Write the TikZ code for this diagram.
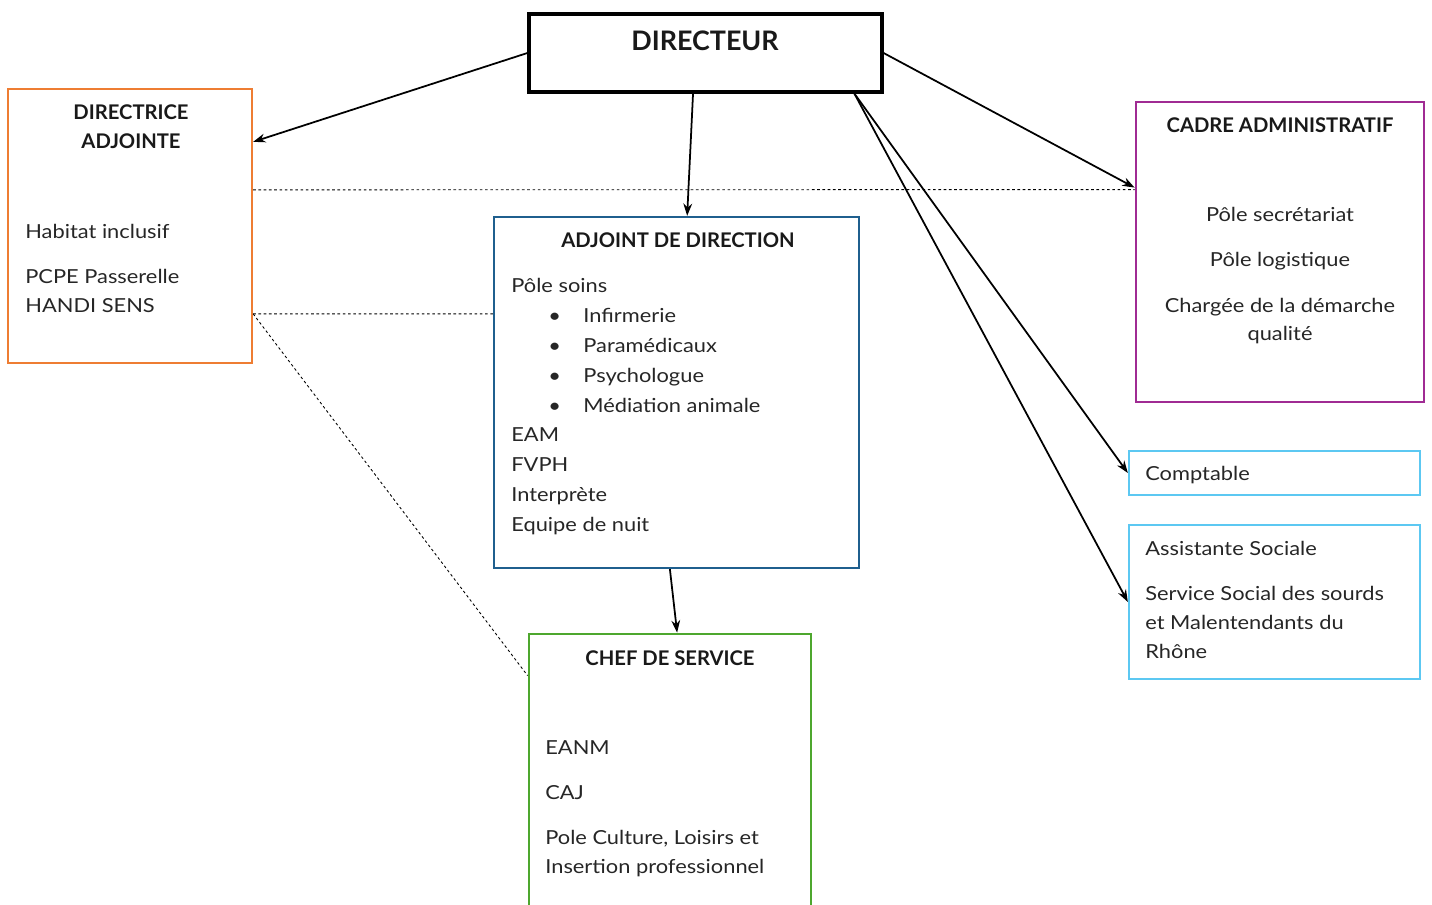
\documentclass[tikz,border=0pt]{standalone}
\usepackage{fontspec}
\setmainfont{Lato}
\newfontfamily\bodyfont{Lato}[FakeStretch=1.13]
\usetikzlibrary{arrows.meta,calc,fit}
\definecolor{daorange}{HTML}{EE7D33}
\definecolor{adjblue}{HTML}{1F5F8E}
\definecolor{admpurple}{HTML}{A02B93}
\definecolor{skyblue}{HTML}{5CC8F2}
\definecolor{chefgreen}{HTML}{4EA72E}
\tikzset{
  box/.style={draw, inner sep=0pt, line width=1.3pt},
  title/.style={font=\fontsize{11.5}{16.5}\selectfont\bfseries, align=center, text=black!90},
  body/.style={font=\bodyfont\fontsize{11}{16.3}\selectfont, align=left, inner sep=0pt, text=black!85},
  link/.style={-{Stealth[length=7pt,width=5pt]}, line width=1pt},
  dots/.style={line width=0.5pt, dash pattern=on 1.5pt off 1.5pt}
}
\begin{document}
\begin{tikzpicture}[x=0.02cm, y=-0.02cm]
\useasboundingbox (0,0) rectangle (1432,905);
\clip (0,0) rectangle (1432,905);

% Boxes
\node[box, line width=1.8pt, fit={(529,14) (882,92)}] (dir) {};
\node[box, draw=daorange, fit={(8,89) (252,363)}] (da) {};
\node[box, draw=adjblue, fit={(494,217) (859,568)}] (adj) {};
\node[box, draw=admpurple, line width=1.6pt, fit={(1136,102) (1424,402)}] (cadre) {};
\node[box, draw=skyblue, fit={(1129,451) (1420,495)}] (compta) {};
\node[box, draw=skyblue, fit={(1129,525) (1420,679)}] (social) {};
\node[box, draw=chefgreen, line width=1.6pt, fit={(529,634) (811,930)}] (chef) {};

% Titles
\node[title, font=\fontsize{15.3}{17}\selectfont\bfseries] (dirtitle) at (705,41) {DIRECTEUR};
\node[title] (datitle) at (131,127) {DIRECTRICE\\ADJOINTE};
\node[title] (adjtitle) at (678,240) {ADJOINT DE DIRECTION};
\node[title] (cadretitle) at (1280,125) {CADRE ADMINISTRATIF};
\node[title] (cheftitle) at (670,658) {CHEF DE SERVICE};

% Contents
\node[body, anchor=north west] (datext) at (25,224) {Habitat inclusif\\[9.5pt]PCPE Passerelle\\HANDI SENS};
\node[body, font=\bodyfont\fontsize{11}{17}\selectfont, anchor=north west] (adjtext) at (511,278) {P\^ole soins\\
  \makebox[41pt][l]{\hspace*{21pt}\textbullet}Infirmerie\\
  \makebox[41pt][l]{\hspace*{21pt}\textbullet}Paramédicaux\\
  \makebox[41pt][l]{\hspace*{21pt}\textbullet}Psychologue\\
  \makebox[41pt][l]{\hspace*{21pt}\textbullet}Médiation animale\\
  EAM\\FVPH\\Interprète\\Equipe de nuit};
\node[body, anchor=north, align=center] (cadretext) at (1280,207) {Pôle secrétariat\\[9.5pt]Pôle logistique\\[9.5pt]Chargée de la démarche\\qualité};
\node[body, anchor=west] (comptatext) at (1145,475) {Comptable};
\node[body, anchor=north west] (socialtext) at (1145,541) {Assistante Sociale\\[9.5pt]Service Social des sourds\\et Malentendants du\\Rhône};
\node[body, anchor=north west] (cheftext) at (545,740) {EANM\\[9.5pt]CAJ\\[9.5pt]Pole Culture, Loisirs et\\Insertion professionnel};

% Hierarchy arrows
\draw[link] (dir.west) -- ($(da.north east)+(0,54)$);
\draw[link] ($(dir.south west)!0.465!(dir.south east)$) -- ($(adj.north west)!0.529!(adj.north east)$);
\draw[link] (dir.east) -- ($(cadre.north west)+(0,87)$);
\draw[link] ($(dir.south west)!0.918!(dir.south east)$) -- (compta.west);
\draw[link] ($(dir.south west)!0.918!(dir.south east)$) -- (social.west);
\draw[link] ($(adj.south west)!0.482!(adj.south east)$) -- ($(chef.north west)!0.525!(chef.north east)$);

% Dotted links
\draw[dots] ($(da.north east)+(0,102)$) -- ($(cadre.north west)+(0,89)$);
\draw[dots] ($(da.north east)+(0,226)$) -- ($(adj.north west)+(0,98)$);
\draw[dots] ($(da.north east)+(0,226)$) -- ($(chef.north west)+(0,43)$);
\end{tikzpicture}
\end{document}
